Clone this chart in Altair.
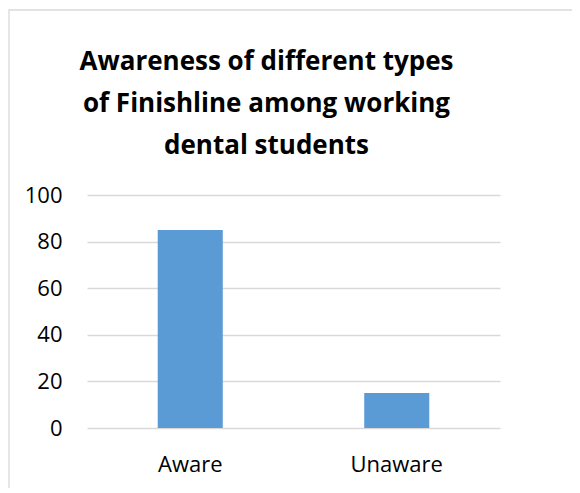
import altair as alt
import pandas as pd

categories = ["Aware", "Unaware"]
values = [85, 15]

df = pd.DataFrame({"category": categories, "value": values})

title_lines = ["Awareness of different types", "of Finishline among working", "dental students"]

bars = alt.Chart(df).mark_bar(color="#5B9BD5").encode(
    x=alt.X("category:N", sort=categories, title=None,
            scale=alt.Scale(paddingInner=0.685, paddingOuter=0.3425),
            axis=alt.Axis(labelAngle=0, labelFontSize=22, labelFont="Open Sans",
                          labelColor="#000000", ticks=False, domain=False,
                          labelPadding=26)),
    y=alt.Y("value:Q", title=None,
            scale=alt.Scale(domain=[0, 100]),
            axis=alt.Axis(values=[0, 20, 40, 60, 80, 100], labelFontSize=22,
                          labelFont="Open Sans", labelColor="#000000",
                          ticks=False, domain=False, grid=True,
                          gridColor="#d9d9d9", gridWidth=1.3, labelPadding=25)),
)

frame = alt.Chart(pd.DataFrame({"k": [0]})).mark_rect(
    fill=None, stroke="#d9d9d9", strokeWidth=1.3, clip=False
).encode(
    x=alt.value(-78), x2=alt.value(600), y=alt.value(-185), y2=alt.value(400)
)

chart = alt.layer(frame, bars).properties(
    width=413, height=233,
    background="white",
    title=alt.TitleParams(title_lines, fontSize=26, font="Open Sans",
                          fontWeight="bold", color="#000000", lineHeight=42,
                          anchor="middle", dx=-27, offset=-150),
    autosize=alt.AutoSizeParams(type="none"),
    padding={"left": 79, "top": 187, "right": 72, "bottom": 60},
).configure_view(stroke=None)

chart.save("out.html", embed_options={"renderer": "svg", "actions": False})
